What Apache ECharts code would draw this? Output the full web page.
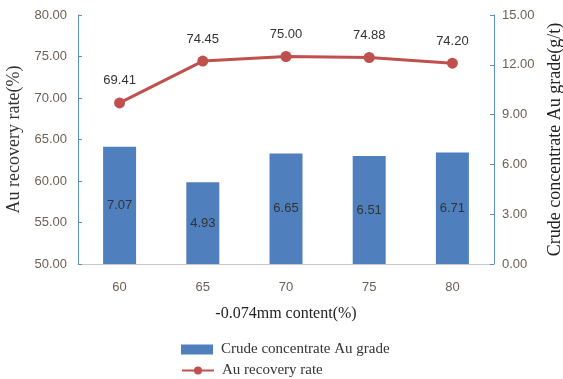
<!DOCTYPE html>
<html>
<head>
<meta charset="utf-8">
<script src="https://cdn.jsdelivr.net/npm/echarts@6/dist/echarts.min.js"></script>
<style>
  html, body { margin: 0; padding: 0; background: #fff; }
  #chart { width: 563px; height: 379px; }
</style>
</head>
<body>
<div id="chart"></div>
<script>
// -0.074mm 含量 vs 粗精矿金品位 / 金回收率
const categories = ['60', '65', '70', '75', '80'];
const gradeValues = [7.07, 4.93, 6.65, 6.51, 6.71];
const recoveryValues = [69.41, 74.45, 75.00, 74.88, 74.20];

const tickFont = '"Liberation Sans", Arial, sans-serif';
const serifFont = '"Liberation Serif", "DejaVu Serif", serif';
const labelColor = '#6b5f52';

const chart = echarts.init(document.getElementById('chart'));

// 图例拆成两行，各占一个 legend
const legendBase = {
  left: 181,
  itemWidth: 32,
  itemHeight: 10,
  padding: 0,
  textStyle: { fontFamily: serifFont, fontSize: 15, color: '#333', padding: [0, 0, 0, 3] },
};

chart.setOption({
  animation: false,
  grid: { left: 78, right: 69, top: 15, bottom: 115, outerBoundsMode: 'none', containLabel: false },
  legend: [
    { ...legendBase, top: 342, data: [{ name: 'Crude concentrate Au grade', icon: 'rect' }] },
    { ...legendBase, top: 363, data: [{ name: 'Au recovery rate' }] },
  ],
  xAxis: {
    type: 'category',
    data: categories,
    name: '-0.074mm content(%)',
    nameLocation: 'middle',
    nameGap: 42,
    nameTextStyle: { fontFamily: serifFont, fontSize: 16, color: '#222' },
    axisLine: { lineStyle: { color: '#c8c8c8' } },
    axisTick: { show: false },
    axisLabel: { fontFamily: tickFont, fontSize: 13, color: labelColor, margin: 17 },
  },
  yAxis: [
    {
      type: 'value',
      min: 50,
      max: 80,
      interval: 5,
      name: 'Au recovery rate(%)',
      nameLocation: 'middle',
      nameRotate: 90,
      nameGap: 54,
      nameTextStyle: { fontFamily: serifFont, fontSize: 18, color: '#333' },
      axisLine: { show: true, lineStyle: { color: '#5b8fcf' } },
      axisTick: { show: true, inside: true, length: 4, lineStyle: { color: '#5b8fcf' } },
      splitLine: { show: false },
      axisLabel: {
        fontFamily: tickFont, fontSize: 13, color: labelColor, margin: 11,
        formatter: v => v.toFixed(2),
      },
    },
    {
      type: 'value',
      min: 0,
      max: 15,
      interval: 3,
      name: 'Crude concentrate Au grade(g/t)',
      nameLocation: 'middle',
      nameRotate: 90,
      nameGap: 52,
      nameTextStyle: { fontFamily: serifFont, fontSize: 18, color: '#222' },
      axisLine: { show: true, lineStyle: { color: '#5b8fcf' } },
      axisTick: { show: true, inside: true, length: 4, lineStyle: { color: '#5b8fcf' } },
      splitLine: { show: false },
      axisLabel: {
        fontFamily: tickFont, fontSize: 13, color: labelColor, margin: 8,
        formatter: v => v.toFixed(2),
      },
    },
  ],
  series: [
    {
      name: 'Crude concentrate Au grade',
      type: 'bar',
      yAxisIndex: 1,
      data: gradeValues,
      barWidth: 33,
      itemStyle: { color: '#4f7fbd' },
      label: {
        show: true,
        position: 'inside',
        fontFamily: tickFont,
        fontSize: 13,
        color: '#333',
        formatter: p => p.value.toFixed(2),
      },
    },
    {
      name: 'Au recovery rate',
      type: 'line',
      yAxisIndex: 0,
      data: recoveryValues,
      symbol: 'circle',
      symbolSize: 11,
      itemStyle: { color: '#c0504d' },
      lineStyle: { color: '#c0504d', width: 3 },
      label: {
        show: true,
        position: 'top',
        distance: 10,
        fontFamily: tickFont,
        fontSize: 13,
        color: '#333',
        formatter: p => p.value.toFixed(2),
      },
    },
  ],
});
</script>
</body>
</html>
